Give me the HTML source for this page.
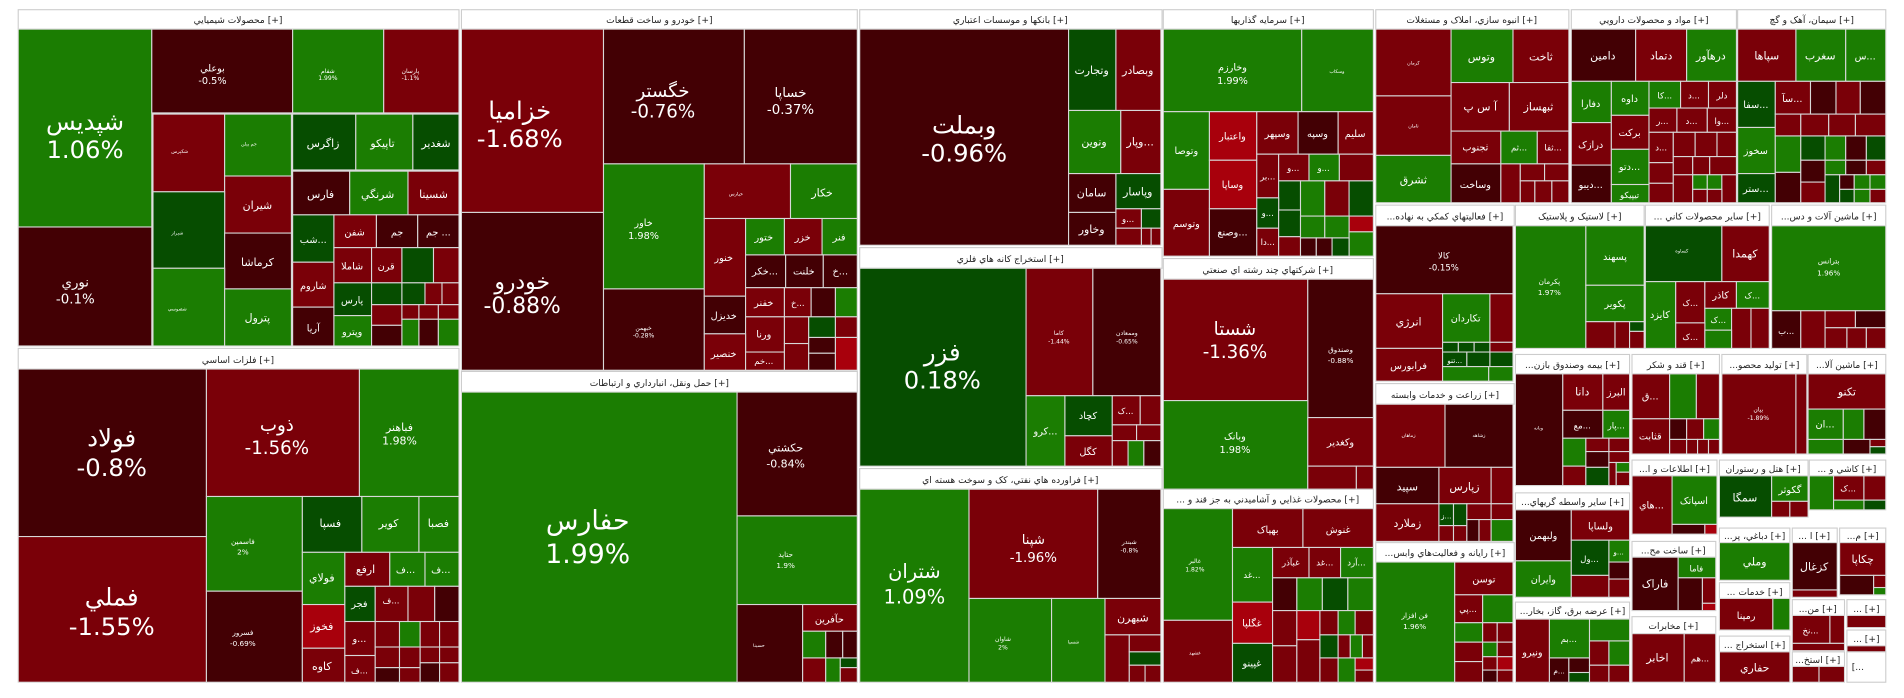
<!DOCTYPE html>
<html><head><meta charset="utf-8"><style>
html,body{margin:0;padding:0;background:#fff;width:1904px;height:698px;overflow:hidden}
svg{display:block}
rect{stroke:#d8d8d8;stroke-width:0.9}
text{fill:#fff;font-family:"DejaVu Sans",sans-serif;text-anchor:middle}
.h rect{fill:#fff;stroke:#ccc}
.h text{fill:#222;font-size:7.5px}
.G{fill:#1b7d02}.D{fill:#064d00}.R{fill:#7a0008}.K{fill:#430004}.B{fill:#a8000c}
</style></head><body>
<svg width="1904" height="698" viewBox="0 0 1568 575" preserveAspectRatio="none">
<rect x="0" y="0" width="1568" height="575" style="fill:#fff;stroke:none"/>
<!-- chemicals -->
<g class="h"><rect x="15" y="8" width="363" height="16"/><text x="196" y="19">محصولات شيميايي [+]</text></g>
<rect class="G" x="15" y="24" width="110" height="163"/><text x="70" y="107" font-size="20">شپديس</text><text x="70" y="130" font-size="20">1.06%</text>
<rect class="K" x="15" y="187" width="110" height="98"/><text x="62" y="236" font-size="11">نوري</text><text x="62" y="250" font-size="11">-0.1%</text>
<rect class="K" x="125" y="24" width="116" height="69"/><text x="175" y="59" font-size="8">بوعلي</text><text x="175" y="69" font-size="8">-0.5%</text>
<rect class="G" x="241" y="24" width="75" height="69"/><text x="270" y="60" font-size="5">شفام</text><text x="270" y="66" font-size="5">1.99%</text>
<rect class="R" x="316" y="24" width="62" height="69"/><text x="338" y="60" font-size="5">پارسان</text><text x="338" y="66" font-size="5">-1.1%</text>
<rect class="R" x="126" y="94" width="59" height="64"/><text x="148" y="126" font-size="4">شکپرس</text>
<rect class="G" x="185" y="94" width="55" height="51"/><text x="205" y="120" font-size="4">جم پيلن</text>
<rect class="D" x="241" y="94" width="52" height="46"/><text x="266" y="121" font-size="9">زاگرس</text>
<rect class="G" x="293" y="94" width="47" height="46"/><text x="315" y="121" font-size="9">تاپيکو</text>
<rect class="D" x="340" y="94" width="38" height="46"/><text x="359" y="121" font-size="9">شغدير</text>
<rect class="R" x="185" y="145" width="55" height="47"/><text x="212" y="172" font-size="9">شيران</text>
<rect class="D" x="126" y="158" width="59" height="63"/><text x="146" y="193" font-size="4">شيراز</text>
<rect class="K" x="185" y="192" width="55" height="46"/><text x="212" y="219" font-size="9">کرماشا</text>
<rect class="G" x="126" y="221" width="59" height="64"/><text x="146" y="256" font-size="4">شصوسي</text>
<rect class="G" x="185" y="238" width="55" height="47"/><text x="212" y="265" font-size="9">پترول</text>
<rect class="K" x="241" y="141" width="47" height="36"/><text x="264" y="163" font-size="9">فارس</text>
<rect class="G" x="288" y="141" width="48" height="36"/><text x="311" y="163" font-size="9">شرنگي</text>
<rect class="R" x="336" y="141" width="42" height="36"/><text x="357" y="163" font-size="9">شسينا</text>
<rect class="D" x="241" y="177" width="34" height="39"/><text x="258" y="200" font-size="8">شب...</text>
<rect class="R" x="275" y="177" width="35" height="27"/><text x="292" y="194" font-size="8">شفن</text>
<rect class="K" x="310" y="177" width="34" height="27"/><text x="327" y="194" font-size="8">جم</text>
<rect class="K" x="344" y="177" width="34" height="27"/><text x="361" y="194" font-size="8">جم ...</text>
<rect class="R" x="241" y="216" width="34" height="37"/><text x="258" y="238" font-size="8">شاروم</text>
<rect class="K" x="241" y="253" width="34" height="32"/><text x="258" y="273" font-size="8">آريا</text>
<rect class="R" x="275" y="204" width="31" height="29"/><text x="290" y="222" font-size="8">شاملا</text>
<rect class="R" x="306" y="204" width="25" height="29"/><text x="318" y="222" font-size="8">قرن</text>
<rect class="D" x="331" y="204" width="26" height="29"/><rect class="R" x="357" y="204" width="21" height="29"/>
<rect class="D" x="275" y="233" width="31" height="27"/><text x="290" y="250" font-size="8">پارس</text>
<rect class="G" x="275" y="260" width="31" height="25"/><text x="290" y="276" font-size="8">وپترو</text>
<rect class="D" x="306" y="233" width="25" height="18"/><rect class="D" x="331" y="233" width="19" height="18"/><rect class="R" x="350" y="233" width="14" height="18"/><rect class="R" x="364" y="233" width="14" height="18"/>
<rect class="R" x="306" y="251" width="25" height="17"/><rect class="R" x="331" y="251" width="14" height="12"/><rect class="R" x="345" y="251" width="16" height="12"/><rect class="R" x="361" y="251" width="17" height="12"/>
<rect class="K" x="306" y="268" width="25" height="17"/><rect class="G" x="331" y="263" width="14" height="22"/><rect class="K" x="345" y="263" width="16" height="22"/><rect class="G" x="361" y="263" width="17" height="22"/>
<!-- auto -->
<g class="h"><rect x="380" y="8" width="326" height="16"/><text x="543" y="19">خودرو و ساخت قطعات [+]</text></g>
<rect class="R" x="380" y="24" width="117" height="151"/><text x="428" y="98" font-size="20">خزاميا</text><text x="428" y="121" font-size="20">-1.68%</text>
<rect class="K" x="380" y="175" width="117" height="130"/><text x="430" y="238" font-size="18">خودرو</text><text x="430" y="258" font-size="18">-0.88%</text>
<rect class="K" x="497" y="24" width="116" height="111"/><text x="546" y="80" font-size="15">خگستر</text><text x="546" y="97" font-size="15">-0.76%</text>
<rect class="K" x="613" y="24" width="93" height="111"/><text x="651" y="80" font-size="11">خساپا</text><text x="651" y="94" font-size="11">-0.37%</text>
<rect class="G" x="497" y="135" width="83" height="103"/><text x="530" y="186" font-size="8">خاور</text><text x="530" y="197" font-size="8">1.98%</text>
<rect class="K" x="497" y="238" width="83" height="67"/><text x="530" y="272" font-size="5">خبهمن</text><text x="530" y="278" font-size="5">-0.28%</text>
<rect class="R" x="580" y="135" width="71" height="45"/><text x="606" y="161" font-size="4">خپارس</text>
<rect class="G" x="651" y="135" width="55" height="45"/><text x="677" y="162" font-size="9">خکار</text>
<rect class="R" x="580" y="180" width="34" height="64"/><text x="596" y="215" font-size="8">خنور</text>
<rect class="G" x="614" y="180" width="32" height="30"/><text x="629" y="198" font-size="8">ختور</text>
<rect class="R" x="646" y="180" width="31" height="30"/><text x="661" y="198" font-size="8">خزر</text>
<rect class="G" x="677" y="180" width="29" height="30"/><text x="691" y="198" font-size="8">فنر</text>
<rect class="K" x="614" y="210" width="33" height="27"/><text x="630" y="226" font-size="8">خکر...</text>
<rect class="K" x="647" y="210" width="31" height="27"/><text x="662" y="226" font-size="8">خلنت</text>
<rect class="K" x="678" y="210" width="28" height="27"/><text x="692" y="226" font-size="8">خ...</text>
<rect class="K" x="580" y="244" width="34" height="31"/><text x="596" y="263" font-size="8">خديزل</text>
<rect class="R" x="614" y="237" width="32" height="24"/><text x="629" y="252" font-size="8">خفنر</text>
<rect class="R" x="646" y="237" width="22" height="24"/><text x="657" y="252" font-size="7">خ...</text>
<rect class="K" x="668" y="237" width="20" height="24"/><rect class="G" x="688" y="237" width="18" height="24"/>
<rect class="R" x="614" y="261" width="32" height="29"/><text x="629" y="278" font-size="8">ورنا</text>
<rect class="R" x="646" y="261" width="20" height="22"/><rect class="D" x="666" y="261" width="22" height="17"/><rect class="R" x="688" y="261" width="18" height="17"/>
<rect class="R" x="580" y="275" width="34" height="30"/><text x="596" y="294" font-size="8">خنصير</text>
<rect class="R" x="614" y="290" width="32" height="15"/><text x="629" y="300" font-size="7">خم...</text>
<rect class="R" x="646" y="283" width="20" height="22"/><rect class="K" x="666" y="278" width="22" height="13"/><rect class="K" x="666" y="291" width="22" height="14"/><rect class="B" x="688" y="278" width="18" height="27"/>
<!-- basic metals -->
<g class="h"><rect x="15" y="287" width="363" height="17"/><text x="196" y="299">فلزات اساسي [+]</text></g>
<rect class="K" x="15" y="304" width="155" height="138"/><text x="92" y="368" font-size="20">فولاد</text><text x="92" y="392" font-size="20">-0.8%</text>
<rect class="R" x="15" y="442" width="155" height="120"/><text x="92" y="499" font-size="20">فملي</text><text x="92" y="523" font-size="20">-1.55%</text>
<rect class="R" x="170" y="304" width="126" height="105"/><text x="228" y="355" font-size="15">ذوب</text><text x="228" y="374" font-size="15">-1.56%</text>
<rect class="G" x="296" y="304" width="82" height="105"/><text x="329" y="355" font-size="9">فباهنر</text><text x="329" y="366" font-size="9">1.98%</text>
<rect class="G" x="170" y="409" width="79" height="78"/><text x="200" y="448" font-size="6">فاسمين</text><text x="200" y="457" font-size="6">2%</text>
<rect class="K" x="170" y="487" width="79" height="75"/><text x="200" y="523" font-size="6">فسرور</text><text x="200" y="532" font-size="6">-0.69%</text>
<rect class="D" x="249" y="409" width="49" height="46"/><text x="272" y="434" font-size="9">فسپا</text>
<rect class="G" x="298" y="409" width="47" height="46"/><text x="320" y="434" font-size="9">کوير</text>
<rect class="G" x="345" y="409" width="33" height="46"/><text x="361" y="434" font-size="9">فصبا</text>
<rect class="G" x="249" y="455" width="35" height="43"/><text x="265" y="479" font-size="9">فولاي</text>
<rect class="R" x="284" y="455" width="37" height="28"/><text x="301" y="472" font-size="9">ارفع</text>
<rect class="G" x="321" y="455" width="29" height="28"/><text x="334" y="472" font-size="8">ف...</text>
<rect class="G" x="350" y="455" width="28" height="28"/><text x="363" y="472" font-size="8">ف...</text>
<rect class="B" x="249" y="498" width="35" height="36"/><text x="265" y="519" font-size="9">فخوز</text>
<rect class="R" x="249" y="534" width="35" height="28"/><text x="265" y="552" font-size="9">کاوه</text>
<rect class="D" x="284" y="483" width="25" height="29"/><text x="296" y="500" font-size="8">فجر</text>
<rect class="R" x="309" y="483" width="27" height="29"/><text x="322" y="497" font-size="7">ف...</text>
<rect class="R" x="336" y="483" width="22" height="29"/><rect class="K" x="358" y="483" width="20" height="29"/>
<rect class="R" x="284" y="512" width="25" height="28"/><text x="296" y="529" font-size="8">و...</text>
<rect class="R" x="284" y="540" width="25" height="22"/><text x="296" y="555" font-size="7">ف...</text>
<rect class="R" x="309" y="512" width="20" height="21"/><rect class="G" x="329" y="512" width="17" height="21"/><rect class="R" x="346" y="512" width="16" height="21"/><rect class="R" x="362" y="512" width="16" height="21"/>
<rect class="R" x="309" y="533" width="20" height="17"/><rect class="R" x="329" y="533" width="17" height="17"/><rect class="R" x="346" y="533" width="16" height="13"/><rect class="R" x="362" y="533" width="16" height="13"/>
<rect class="K" x="309" y="550" width="20" height="12"/><rect class="R" x="329" y="550" width="17" height="12"/><rect class="K" x="346" y="546" width="16" height="16"/><rect class="R" x="362" y="546" width="16" height="16"/>
<!-- transport -->
<g class="h"><rect x="380" y="306" width="326" height="17"/><text x="543" y="318">حمل ونقل، انبارداري و ارتباطات [+]</text></g>
<rect class="G" x="380" y="323" width="227" height="239"/><text x="484" y="436" font-size="22">حفارس</text><text x="484" y="464" font-size="22">1.99%</text>
<rect class="K" x="607" y="323" width="99" height="102"/><text x="647" y="372" font-size="9">حکشتي</text><text x="647" y="385" font-size="9">-0.84%</text>
<rect class="G" x="607" y="425" width="99" height="73"/><text x="647" y="459" font-size="6">حتايد</text><text x="647" y="468" font-size="6">1.9%</text>
<rect class="K" x="607" y="498" width="54" height="64"/><text x="625" y="533" font-size="4">حسينا</text>
<rect class="R" x="661" y="498" width="45" height="22"/><text x="683" y="513" font-size="8">حآفرين</text>
<rect class="G" x="661" y="520" width="19" height="22"/><rect class="K" x="680" y="520" width="14" height="22"/><rect class="K" x="694" y="520" width="12" height="22"/>
<rect class="R" x="661" y="542" width="19" height="20"/><rect class="G" x="680" y="542" width="12" height="20"/><rect class="D" x="692" y="542" width="14" height="8"/><rect class="R" x="692" y="550" width="14" height="12"/>
<!-- banks -->
<g class="h"><rect x="708" y="8" width="249" height="16"/><text x="832" y="19">بانکها و موسسات اعتباري [+]</text></g>
<rect class="K" x="708" y="24" width="172" height="178"/><text x="794" y="110" font-size="20">وبملت</text><text x="794" y="133" font-size="20">-0.96%</text>
<rect class="D" x="880" y="24" width="39" height="67"/><text x="899" y="61" font-size="9">وتجارت</text>
<rect class="R" x="919" y="24" width="37" height="67"/><text x="937" y="61" font-size="9">وبصادر</text>
<rect class="G" x="880" y="91" width="43" height="52"/><text x="901" y="120" font-size="9">ونوين</text>
<rect class="R" x="923" y="91" width="33" height="52"/><text x="939" y="120" font-size="9">وپار...</text>
<rect class="K" x="880" y="143" width="39" height="32"/><text x="899" y="162" font-size="9">سامان</text>
<rect class="D" x="919" y="143" width="37" height="29"/><text x="937" y="161" font-size="9">وپاسار</text>
<rect class="K" x="880" y="175" width="39" height="27"/><text x="899" y="192" font-size="9">وخاور</text>
<rect class="R" x="919" y="172" width="21" height="16"/><text x="929" y="183" font-size="7">و...</text><rect class="D" x="940" y="172" width="16" height="16"/>
<rect class="R" x="919" y="188" width="21" height="14"/><rect class="R" x="940" y="188" width="8" height="14"/><rect class="R" x="948" y="188" width="8" height="14"/>
<!-- mining -->
<g class="h"><rect x="708" y="204" width="249" height="17"/><text x="832" y="216">استخراج کانه هاي فلزي [+]</text></g>
<rect class="D" x="708" y="221" width="137" height="163"/><text x="776" y="297" font-size="20">فزر</text><text x="776" y="320" font-size="20">0.18%</text>
<rect class="R" x="845" y="221" width="55" height="105"/><text x="872" y="276" font-size="5">کاما</text><text x="872" y="283" font-size="5">-1.44%</text>
<rect class="K" x="900" y="221" width="56" height="105"/><text x="928" y="276" font-size="5">وممعادن</text><text x="928" y="283" font-size="5">-0.65%</text>
<rect class="G" x="845" y="326" width="32" height="58"/><text x="861" y="358" font-size="8">کرو...</text>
<rect class="D" x="877" y="326" width="39" height="33"/><text x="896" y="345" font-size="8">کچاد</text>
<rect class="R" x="877" y="359" width="39" height="25"/><text x="896" y="375" font-size="8">کگل</text>
<rect class="R" x="916" y="326" width="23" height="24"/><text x="927" y="341" font-size="7">ک...</text><rect class="R" x="939" y="326" width="17" height="24"/>
<rect class="R" x="916" y="350" width="20" height="13"/><rect class="R" x="936" y="350" width="20" height="13"/>
<rect class="R" x="916" y="363" width="13" height="21"/><rect class="G" x="929" y="363" width="13" height="21"/><rect class="K" x="942" y="363" width="14" height="21"/>
<!-- oil -->
<g class="h"><rect x="708" y="386" width="249" height="17"/><text x="832" y="398">فراورده هاي نفتي، کک و سوخت هسته اي [+]</text></g>
<rect class="G" x="708" y="403" width="90" height="159"/><text x="753" y="476" font-size="16">شتران</text><text x="753" y="497" font-size="16">1.09%</text>
<rect class="R" x="798" y="403" width="106" height="90"/><text x="851" y="448" font-size="11">شپنا</text><text x="851" y="463" font-size="11">-1.96%</text>
<rect class="K" x="904" y="403" width="52" height="90"/><text x="930" y="448" font-size="5">شبندر</text><text x="930" y="455" font-size="5">-0.8%</text>
<rect class="G" x="798" y="493" width="68" height="69"/><text x="826" y="528" font-size="5">شاوان</text><text x="826" y="535" font-size="5">2%</text>
<rect class="G" x="866" y="493" width="44" height="69"/><text x="884" y="530" font-size="4">شسپا</text>
<rect class="R" x="910" y="493" width="46" height="30"/><text x="933" y="512" font-size="9">شبهرن</text>
<rect class="R" x="910" y="523" width="20" height="39"/><rect class="R" x="930" y="523" width="26" height="14"/><rect class="D" x="930" y="537" width="26" height="11"/><rect class="R" x="930" y="548" width="13" height="14"/><rect class="R" x="943" y="548" width="13" height="14"/>
<!-- investments -->
<g class="h"><rect x="958" y="8" width="173" height="16"/><text x="1044" y="19">سرمايه گذاريها [+]</text></g>
<rect class="G" x="958" y="24" width="114" height="68"/><text x="1015" y="58" font-size="8">وخارزم</text><text x="1015" y="69" font-size="8">1.99%</text>
<rect class="G" x="1072" y="24" width="59" height="68"/><text x="1101" y="60" font-size="4">وسکاب</text>
<rect class="G" x="958" y="92" width="38" height="64"/><text x="977" y="127" font-size="8">وتوصا</text>
<rect class="R" x="958" y="156" width="38" height="55"/><text x="977" y="187" font-size="8">وتوسم</text>
<rect class="B" x="996" y="92" width="39" height="40"/><text x="1015" y="115" font-size="8">واعتبار</text>
<rect class="B" x="996" y="132" width="39" height="40"/><text x="1015" y="155" font-size="8">وساپا</text>
<rect class="K" x="996" y="172" width="39" height="39"/><text x="1015" y="194" font-size="8">وصنع...</text>
<rect class="R" x="1035" y="92" width="34" height="35"/><text x="1052" y="113" font-size="8">وسپهر</text>
<rect class="K" x="1069" y="92" width="33" height="35"/><text x="1085" y="113" font-size="8">وسپه</text>
<rect class="R" x="1102" y="92" width="29" height="35"/><text x="1116" y="113" font-size="8">سليم</text>
<rect class="R" x="1035" y="127" width="18" height="36"/><text x="1044" y="148" font-size="7">بر...</text>
<rect class="R" x="1053" y="127" width="25" height="22"/><text x="1065" y="141" font-size="7">و...</text>
<rect class="G" x="1078" y="127" width="25" height="22"/><text x="1090" y="141" font-size="7">و...</text>
<rect class="R" x="1103" y="127" width="28" height="22"/>
<rect class="D" x="1053" y="149" width="18" height="24"/><rect class="G" x="1071" y="149" width="20" height="29"/><rect class="R" x="1091" y="149" width="20" height="29"/><rect class="D" x="1111" y="149" width="20" height="29"/>
<rect class="D" x="1035" y="163" width="18" height="25"/><text x="1044" y="178" font-size="7">و...</text>
<rect class="R" x="1035" y="188" width="18" height="23"/><text x="1044" y="202" font-size="7">دا...</text>
<rect class="D" x="1053" y="173" width="18" height="22"/><rect class="R" x="1053" y="195" width="18" height="16"/>
<rect class="G" x="1071" y="178" width="20" height="18"/><rect class="B" x="1111" y="178" width="20" height="13"/><rect class="G" x="1091" y="178" width="20" height="18"/><rect class="G" x="1111" y="191" width="20" height="20"/>
<rect class="K" x="1071" y="196" width="13" height="15"/><rect class="K" x="1084" y="196" width="13" height="15"/><rect class="D" x="1097" y="196" width="14" height="15"/>
<!-- multi -->
<g class="h"><rect x="958" y="213" width="173" height="17"/><text x="1044" y="225">شرکتهاي چند رشته اي صنعتي [+]</text></g>
<rect class="R" x="958" y="230" width="119" height="100"/><text x="1017" y="276" font-size="15">شستا</text><text x="1017" y="295" font-size="15">-1.36%</text>
<rect class="K" x="1077" y="230" width="54" height="114"/><text x="1104" y="290" font-size="6">وصندوق</text><text x="1104" y="299" font-size="6">-0.88%</text>
<rect class="G" x="958" y="330" width="119" height="73"/><text x="1017" y="362" font-size="8">وبانک</text><text x="1017" y="373" font-size="8">1.98%</text>
<rect class="R" x="1077" y="344" width="54" height="40"/><text x="1104" y="367" font-size="8">وکغدير</text>
<rect class="R" x="1077" y="384" width="40" height="19"/><rect class="R" x="1117" y="384" width="14" height="19"/>
<!-- food -->
<g class="h"><rect x="958" y="403" width="173" height="16"/><text x="1044" y="414">... محصولات غذايي و آشاميدني به جز قند و [+]</text></g>
<rect class="G" x="958" y="419" width="57" height="92"/><text x="984" y="464" font-size="5">غالبر</text><text x="984" y="471" font-size="5">1.82%</text>
<rect class="R" x="958" y="511" width="57" height="51"/><text x="984" y="539" font-size="4">غشهد</text>
<rect class="R" x="1015" y="419" width="58" height="32"/><text x="1044" y="439" font-size="8">بهپاک</text>
<rect class="R" x="1073" y="419" width="58" height="32"/><text x="1102" y="439" font-size="8">غنوش</text>
<rect class="G" x="1015" y="451" width="33" height="45"/><text x="1031" y="476" font-size="7">غد...</text>
<rect class="R" x="1048" y="451" width="30" height="25"/><text x="1063" y="466" font-size="7">غبآذر</text>
<rect class="R" x="1078" y="451" width="26" height="25"/><text x="1091" y="466" font-size="7">غد...</text>
<rect class="G" x="1104" y="451" width="27" height="25"/><text x="1117" y="466" font-size="7">آرد...</text>
<rect class="B" x="1015" y="496" width="33" height="34"/><text x="1031" y="516" font-size="8">غگلپا</text>
<rect class="D" x="1015" y="530" width="33" height="32"/><text x="1031" y="549" font-size="8">غپينو</text>
<rect class="K" x="1048" y="476" width="20" height="27"/><rect class="G" x="1068" y="476" width="21" height="27"/><rect class="D" x="1089" y="476" width="21" height="27"/><rect class="G" x="1110" y="476" width="21" height="27"/>
<rect class="R" x="1048" y="503" width="20" height="29"/><rect class="B" x="1068" y="503" width="19" height="24"/><rect class="R" x="1087" y="503" width="15" height="20"/><rect class="G" x="1102" y="503" width="14" height="20"/><rect class="R" x="1116" y="503" width="15" height="20"/>
<rect class="R" x="1048" y="532" width="20" height="30"/><rect class="R" x="1068" y="527" width="19" height="35"/><rect class="D" x="1087" y="523" width="15" height="19"/><rect class="R" x="1102" y="523" width="10" height="19"/><rect class="G" x="1112" y="523" width="10" height="19"/><rect class="R" x="1122" y="523" width="9" height="19"/>
<rect class="R" x="1087" y="542" width="15" height="20"/><rect class="G" x="1102" y="542" width="14" height="20"/><rect class="B" x="1116" y="542" width="15" height="10"/><rect class="R" x="1116" y="552" width="15" height="10"/>
<!-- construction -->
<g class="h"><rect x="1133" y="8" width="159" height="16"/><text x="1212" y="19">انبوه سازي، املاک و مستغلات [+]</text></g>
<rect class="R" x="1133" y="24" width="62" height="55"/><text x="1164" y="53" font-size="4">کرمان</text>
<rect class="R" x="1133" y="79" width="62" height="49"/><text x="1164" y="105" font-size="4">ثامان</text>
<rect class="G" x="1133" y="128" width="62" height="39"/><text x="1164" y="151" font-size="9">ثشرق</text>
<rect class="G" x="1195" y="24" width="51" height="44"/><text x="1220" y="50" font-size="9">وتوس</text>
<rect class="R" x="1246" y="24" width="46" height="44"/><text x="1269" y="50" font-size="9">ثاخت</text>
<rect class="R" x="1195" y="68" width="48" height="40"/><text x="1219" y="91" font-size="9">آ س پ</text>
<rect class="R" x="1243" y="68" width="49" height="40"/><text x="1267" y="91" font-size="9">ثبهساز</text>
<rect class="R" x="1195" y="108" width="41" height="27"/><text x="1215" y="124" font-size="8">ثجنوب</text>
<rect class="G" x="1236" y="108" width="30" height="27"/><text x="1251" y="124" font-size="7">ثم...</text>
<rect class="R" x="1266" y="108" width="26" height="27"/><text x="1279" y="124" font-size="7">ثفا...</text>
<rect class="K" x="1195" y="135" width="41" height="32"/><text x="1215" y="155" font-size="8">وساخت</text>
<rect class="R" x="1236" y="135" width="16" height="32"/><rect class="R" x="1252" y="135" width="20" height="14"/><rect class="R" x="1272" y="135" width="20" height="14"/><rect class="R" x="1252" y="149" width="12" height="18"/><rect class="R" x="1264" y="149" width="14" height="18"/><rect class="R" x="1278" y="149" width="14" height="18"/>
<!-- pharma -->
<g class="h"><rect x="1294" y="8" width="136" height="16"/><text x="1362" y="19">مواد و محصولات دارويي [+]</text></g>
<rect class="K" x="1294" y="24" width="53" height="43"/><text x="1320" y="49" font-size="9">دامين</text>
<rect class="R" x="1347" y="24" width="42" height="43"/><text x="1368" y="49" font-size="9">دتماد</text>
<rect class="G" x="1389" y="24" width="41" height="43"/><text x="1409" y="49" font-size="9">درهآور</text>
<rect class="G" x="1294" y="67" width="33" height="34"/><text x="1310" y="88" font-size="8">دفارا</text>
<rect class="G" x="1327" y="67" width="31" height="28"/><text x="1342" y="84" font-size="8">داوه</text>
<rect class="G" x="1358" y="67" width="26" height="22"/><text x="1371" y="81" font-size="7">کا...</text>
<rect class="R" x="1384" y="67" width="23" height="22"/><text x="1395" y="81" font-size="7">د...</text>
<rect class="R" x="1407" y="67" width="23" height="22"/><text x="1418" y="81" font-size="7">دلر</text>
<rect class="R" x="1294" y="101" width="33" height="35"/><text x="1310" y="122" font-size="8">درازک</text>
<rect class="K" x="1294" y="136" width="33" height="31"/><text x="1310" y="155" font-size="8">ديبو...</text>
<rect class="R" x="1327" y="95" width="31" height="28"/><text x="1342" y="112" font-size="8">برکت</text>
<rect class="G" x="1327" y="123" width="31" height="29"/><text x="1342" y="140" font-size="8">دتو...</text>
<rect class="G" x="1327" y="152" width="31" height="15"/><text x="1342" y="163" font-size="7">تيپيکو</text>
<rect class="R" x="1358" y="89" width="23" height="20"/><text x="1369" y="102" font-size="7">ر...</text>
<rect class="R" x="1381" y="89" width="25" height="20"/><text x="1393" y="102" font-size="7">د...</text>
<rect class="R" x="1406" y="89" width="24" height="20"/><text x="1418" y="102" font-size="7">وا...</text>
<rect class="R" x="1358" y="109" width="20" height="25"/><text x="1368" y="124" font-size="7">د...</text><rect class="R" x="1378" y="109" width="18" height="20"/><rect class="R" x="1396" y="109" width="18" height="20"/><rect class="R" x="1414" y="109" width="16" height="20"/>
<rect class="R" x="1358" y="134" width="20" height="17"/><rect class="R" x="1378" y="129" width="16" height="15"/><rect class="R" x="1394" y="129" width="14" height="15"/><rect class="R" x="1408" y="129" width="22" height="15"/>
<rect class="R" x="1358" y="151" width="20" height="16"/><rect class="R" x="1378" y="144" width="16" height="23"/><rect class="G" x="1394" y="144" width="12" height="12"/><rect class="G" x="1406" y="144" width="12" height="12"/><rect class="R" x="1418" y="144" width="12" height="23"/><rect class="R" x="1394" y="156" width="12" height="11"/><rect class="R" x="1406" y="156" width="12" height="11"/>
<!-- cement -->
<g class="h"><rect x="1431" y="8" width="122" height="16"/><text x="1492" y="19">سيمان، آهک و گچ [+]</text></g>
<rect class="R" x="1431" y="24" width="48" height="43"/><text x="1455" y="49" font-size="9">سپاها</text>
<rect class="G" x="1479" y="24" width="41" height="43"/><text x="1499" y="49" font-size="9">سغرب</text>
<rect class="G" x="1520" y="24" width="33" height="43"/><text x="1536" y="49" font-size="8">س...</text>
<rect class="D" x="1431" y="67" width="31" height="38"/><text x="1446" y="89" font-size="8">سفا...</text>
<rect class="R" x="1462" y="67" width="29" height="27"/><text x="1476" y="84" font-size="8">سآ...</text>
<rect class="K" x="1491" y="67" width="21" height="27"/><rect class="R" x="1512" y="67" width="20" height="27"/><rect class="K" x="1532" y="67" width="21" height="27"/>
<rect class="G" x="1431" y="105" width="31" height="38"/><text x="1446" y="127" font-size="8">سخوز</text>
<rect class="D" x="1431" y="143" width="31" height="24"/><text x="1446" y="158" font-size="8">ستر...</text>
<rect class="R" x="1462" y="94" width="21" height="18"/><rect class="R" x="1483" y="94" width="23" height="18"/><rect class="R" x="1506" y="94" width="22" height="18"/><rect class="R" x="1528" y="94" width="25" height="18"/>
<rect class="G" x="1462" y="112" width="21" height="30"/><rect class="D" x="1483" y="112" width="20" height="20"/><rect class="G" x="1503" y="112" width="17" height="20"/><rect class="K" x="1520" y="112" width="17" height="20"/><rect class="D" x="1537" y="112" width="16" height="20"/>
<rect class="K" x="1462" y="142" width="21" height="25"/><rect class="K" x="1483" y="132" width="20" height="18"/><rect class="G" x="1503" y="132" width="17" height="12"/><rect class="K" x="1520" y="132" width="17" height="12"/><rect class="R" x="1537" y="132" width="16" height="12"/>
<rect class="R" x="1483" y="150" width="20" height="17"/><rect class="D" x="1503" y="144" width="12" height="23"/><rect class="K" x="1515" y="144" width="12" height="12"/><rect class="G" x="1527" y="144" width="13" height="12"/><rect class="G" x="1540" y="144" width="13" height="12"/><rect class="D" x="1515" y="156" width="12" height="11"/><rect class="G" x="1527" y="156" width="13" height="11"/><rect class="R" x="1540" y="156" width="13" height="11"/>
<!-- support -->
<g class="h"><rect x="1133" y="169" width="114" height="17"/><text x="1190" y="181">...فعاليتهاي کمکي به نهاده [+]</text></g>
<rect class="K" x="1133" y="186" width="113" height="56"/><text x="1189" y="213" font-size="7">کالا</text><text x="1189" y="223" font-size="7">-0.15%</text>
<rect class="R" x="1133" y="242" width="55" height="45"/><text x="1160" y="268" font-size="9">انرژي</text>
<rect class="R" x="1133" y="287" width="55" height="27"/><text x="1160" y="304" font-size="8">فرابورس</text>
<rect class="G" x="1188" y="242" width="39" height="40"/><text x="1207" y="265" font-size="8">تکاردان</text>
<rect class="R" x="1227" y="242" width="19" height="40"/>
<rect class="D" x="1188" y="282" width="13" height="8"/><rect class="D" x="1201" y="282" width="13" height="8"/><rect class="D" x="1214" y="282" width="13" height="8"/><rect class="R" x="1227" y="282" width="19" height="8"/>
<rect class="D" x="1188" y="290" width="20" height="12"/><text x="1198" y="299" font-size="6">تنو...</text><rect class="D" x="1208" y="290" width="19" height="12"/><rect class="D" x="1227" y="290" width="19" height="12"/>
<rect class="G" x="1188" y="302" width="38" height="12"/><rect class="G" x="1226" y="302" width="20" height="12"/>
<!-- agri -->
<g class="h"><rect x="1133" y="316" width="114" height="17"/><text x="1190" y="328">زراعت و خدمات وابسته [+]</text></g>
<rect class="R" x="1133" y="333" width="57" height="52"/><text x="1160" y="360" font-size="4">زماهان</text>
<rect class="K" x="1190" y="333" width="56" height="52"/><text x="1218" y="360" font-size="4">زشاهد</text>
<rect class="K" x="1133" y="385" width="52" height="30"/><text x="1159" y="404" font-size="9">سپيد</text>
<rect class="R" x="1185" y="385" width="43" height="30"/><text x="1206" y="404" font-size="9">زپارس</text>
<rect class="R" x="1228" y="385" width="18" height="30"/>
<rect class="R" x="1133" y="415" width="52" height="31"/><text x="1159" y="434" font-size="9">زملارد</text>
<rect class="D" x="1185" y="415" width="12" height="18"/><text x="1191" y="427" font-size="6">ز...</text><rect class="D" x="1197" y="415" width="11" height="18"/><rect class="R" x="1208" y="415" width="20" height="13"/><rect class="R" x="1228" y="415" width="18" height="13"/>
<rect class="R" x="1185" y="433" width="12" height="13"/><rect class="R" x="1197" y="433" width="11" height="13"/><rect class="K" x="1208" y="428" width="10" height="18"/><rect class="R" x="1218" y="428" width="10" height="18"/><rect class="G" x="1228" y="428" width="18" height="18"/>
<!-- IT -->
<g class="h"><rect x="1133" y="447" width="114" height="16"/><text x="1190" y="458">...رايانه و فعاليت‌هاي وابس [+]</text></g>
<rect class="G" x="1133" y="463" width="65" height="99"/><text x="1165" y="509" font-size="6">فن افزار</text><text x="1165" y="518" font-size="6">1.96%</text>
<rect class="R" x="1198" y="463" width="48" height="27"/><text x="1222" y="480" font-size="8">توسن</text>
<rect class="R" x="1198" y="490" width="23" height="23"/><text x="1209" y="504" font-size="7">پي...</text><rect class="G" x="1221" y="490" width="25" height="23"/>
<rect class="G" x="1198" y="513" width="23" height="16"/><rect class="R" x="1221" y="513" width="12" height="16"/><rect class="R" x="1233" y="513" width="13" height="16"/>
<rect class="R" x="1198" y="529" width="23" height="16"/><rect class="G" x="1221" y="529" width="12" height="12"/><rect class="R" x="1233" y="529" width="13" height="12"/>
<rect class="R" x="1198" y="545" width="23" height="17"/><rect class="R" x="1221" y="541" width="12" height="11"/><rect class="B" x="1233" y="541" width="13" height="11"/><rect class="K" x="1221" y="552" width="12" height="10"/><rect class="R" x="1233" y="552" width="13" height="10"/>
<!-- plastics -->
<g class="h"><rect x="1248" y="169" width="106" height="17"/><text x="1301" y="181">لاستيک و پلاستيک [+]</text></g>
<rect class="G" x="1248" y="186" width="58" height="101"/><text x="1276" y="234" font-size="6">پکرمان</text><text x="1276" y="243" font-size="6">1.97%</text>
<rect class="G" x="1306" y="186" width="48" height="49"/><text x="1330" y="214" font-size="8">پسهند</text>
<rect class="G" x="1306" y="235" width="48" height="30"/><text x="1330" y="253" font-size="8">پکوير</text>
<rect class="R" x="1306" y="265" width="24" height="22"/><rect class="R" x="1330" y="265" width="12" height="22"/><rect class="D" x="1342" y="265" width="12" height="8"/><rect class="R" x="1342" y="273" width="12" height="14"/>
<!-- nonmetal -->
<g class="h"><rect x="1355" y="169" width="102" height="17"/><text x="1406" y="181">... ساير محصولات کاني [+]</text></g>
<rect class="D" x="1355" y="186" width="63" height="46"/><text x="1385" y="208" font-size="4">کساوه</text>
<rect class="R" x="1418" y="186" width="39" height="46"/><text x="1437" y="212" font-size="9">کهمدا</text>
<rect class="G" x="1355" y="232" width="25" height="55"/><text x="1367" y="262" font-size="8">کايزد</text>
<rect class="R" x="1380" y="232" width="24" height="34"/><text x="1392" y="252" font-size="7">ک...</text>
<rect class="R" x="1404" y="232" width="26" height="22"/><text x="1417" y="246" font-size="8">کاذر</text>
<rect class="G" x="1430" y="232" width="27" height="22"/><text x="1443" y="246" font-size="7">ک...</text>
<rect class="G" x="1404" y="254" width="22" height="18"/><text x="1415" y="266" font-size="7">ک...</text><rect class="R" x="1426" y="254" width="16" height="33"/><rect class="R" x="1442" y="254" width="15" height="33"/>
<rect class="R" x="1380" y="266" width="24" height="21"/><text x="1392" y="280" font-size="7">ک...</text><rect class="G" x="1404" y="272" width="22" height="15"/>
<!-- machinery -->
<g class="h"><rect x="1459" y="169" width="94" height="17"/><text x="1506" y="181">...ماشين آلات و دس [+]</text></g>
<rect class="G" x="1459" y="186" width="94" height="70"/><text x="1506" y="217" font-size="6">بترانس</text><text x="1506" y="227" font-size="6">1.96%</text>
<rect class="K" x="1459" y="256" width="24" height="31"/><text x="1471" y="275" font-size="7">ب...</text>
<rect class="R" x="1483" y="256" width="20" height="31"/><rect class="R" x="1503" y="256" width="25" height="14"/><rect class="K" x="1528" y="256" width="25" height="14"/><rect class="R" x="1503" y="270" width="18" height="17"/><rect class="R" x="1521" y="270" width="16" height="17"/><rect class="R" x="1537" y="270" width="16" height="17"/>
<!-- insurance -->
<g class="h"><rect x="1248" y="292" width="94" height="16"/><text x="1295" y="303">...بيمه وصندوق بازن [+]</text></g>
<rect class="K" x="1248" y="308" width="39" height="92"/><text x="1267" y="354" font-size="4">وبانه</text>
<rect class="R" x="1287" y="308" width="33" height="30"/><text x="1303" y="326" font-size="9">دانا</text>
<rect class="R" x="1320" y="308" width="22" height="30"/><text x="1331" y="326" font-size="8">البرز</text>
<rect class="K" x="1287" y="338" width="33" height="23"/><text x="1303" y="353" font-size="7">مع...</text>
<rect class="G" x="1320" y="338" width="22" height="23"/><text x="1331" y="353" font-size="7">پار...</text>
<rect class="G" x="1287" y="361" width="19" height="23"/><rect class="R" x="1306" y="361" width="19" height="11"/><rect class="R" x="1325" y="361" width="17" height="11"/><rect class="K" x="1306" y="372" width="19" height="13"/><rect class="R" x="1325" y="372" width="17" height="9"/>
<rect class="R" x="1287" y="384" width="19" height="16"/><rect class="D" x="1306" y="385" width="19" height="15"/><rect class="R" x="1325" y="381" width="6" height="19"/><rect class="G" x="1331" y="381" width="11" height="8"/><rect class="R" x="1331" y="389" width="11" height="11"/>
<!-- sugar -->
<g class="h"><rect x="1344" y="292" width="72" height="16"/><text x="1380" y="303">قند و شکر [+]</text></g>
<rect class="R" x="1344" y="308" width="31" height="37"/><text x="1359" y="329" font-size="8">ق...</text>
<rect class="G" x="1375" y="308" width="22" height="37"/><rect class="R" x="1397" y="308" width="19" height="37"/>
<rect class="R" x="1344" y="345" width="31" height="29"/><text x="1359" y="362" font-size="8">قثابت</text>
<rect class="K" x="1375" y="345" width="14" height="17"/><rect class="R" x="1389" y="345" width="14" height="17"/><rect class="G" x="1403" y="345" width="13" height="17"/>
<rect class="R" x="1375" y="362" width="14" height="12"/><rect class="R" x="1389" y="362" width="9" height="12"/><rect class="R" x="1398" y="362" width="9" height="12"/><rect class="R" x="1407" y="362" width="9" height="12"/>
<!-- production -->
<g class="h"><rect x="1418" y="292" width="70" height="16"/><text x="1453" y="303">...توليد محصو [+]</text></g>
<rect class="R" x="1418" y="308" width="61" height="66"/><text x="1448" y="339" font-size="5">بيان</text><text x="1448" y="346" font-size="5">-1.89%</text>
<rect class="R" x="1479" y="308" width="9" height="66"/>
<!-- mach2 -->
<g class="h"><rect x="1489" y="292" width="64" height="16"/><text x="1521" y="303">...ماشين آلا [+]</text></g>
<rect class="R" x="1489" y="308" width="64" height="29"/><text x="1521" y="326" font-size="9">تکنو</text>
<rect class="G" x="1489" y="337" width="29" height="25"/><text x="1503" y="352" font-size="8">ان...</text>
<rect class="G" x="1518" y="337" width="17" height="25"/><rect class="K" x="1535" y="337" width="18" height="25"/>
<rect class="G" x="1489" y="362" width="29" height="12"/><rect class="K" x="1518" y="362" width="22" height="12"/><rect class="R" x="1540" y="362" width="13" height="6"/><rect class="D" x="1540" y="368" width="13" height="6"/>
<!-- info -->
<g class="h"><rect x="1344" y="379" width="70" height="13"/><text x="1379" y="389" font-size="7">...اطلاعات و ا [+]</text></g>
<rect class="R" x="1344" y="392" width="33" height="48"/><text x="1360" y="419" font-size="8">هاي...</text>
<rect class="G" x="1377" y="392" width="37" height="40"/><text x="1395" y="415" font-size="8">اسپاتک</text>
<rect class="K" x="1377" y="432" width="27" height="8"/><rect class="B" x="1404" y="432" width="10" height="8"/>
<g class="h"><rect x="1416" y="379" width="73" height="13"/><text x="1452" y="389" font-size="7">هتل و رستوران [+]</text></g>
<rect class="D" x="1416" y="392" width="43" height="34"/><text x="1437" y="413" font-size="9">سمگا</text>
<rect class="G" x="1459" y="392" width="30" height="21"/><text x="1474" y="406" font-size="8">گکوثر</text>
<rect class="R" x="1459" y="413" width="15" height="13"/><rect class="R" x="1474" y="413" width="15" height="13"/>
<g class="h"><rect x="1490" y="379" width="63" height="13"/><text x="1521" y="389" font-size="7">... کاشي و [+]</text></g>
<rect class="G" x="1490" y="392" width="20" height="28"/><rect class="R" x="1510" y="392" width="25" height="20"/><text x="1522" y="405" font-size="7">ک...</text><rect class="R" x="1535" y="392" width="18" height="20"/>
<rect class="D" x="1535" y="412" width="18" height="8"/><rect class="G" x="1510" y="412" width="25" height="8"/>
<!-- other intermediaries -->
<g class="h"><rect x="1248" y="406" width="94" height="14"/><text x="1295" y="416">...ساير واسطه گريهاي [+]</text></g>
<rect class="K" x="1248" y="420" width="46" height="42"/><text x="1271" y="444" font-size="8">ولبهمن</text>
<rect class="G" x="1248" y="462" width="46" height="30"/><text x="1271" y="480" font-size="8">وايران</text>
<rect class="R" x="1294" y="420" width="48" height="25"/><text x="1318" y="436" font-size="8">ولساپا</text>
<rect class="D" x="1294" y="445" width="31" height="29"/><text x="1309" y="463" font-size="7">ول...</text>
<rect class="G" x="1325" y="445" width="17" height="18"/><text x="1333" y="457" font-size="6">و...</text><rect class="K" x="1325" y="463" width="17" height="14"/>
<rect class="R" x="1294" y="474" width="31" height="18"/><rect class="R" x="1325" y="477" width="17" height="15"/>
<!-- construction2 -->
<g class="h"><rect x="1344" y="446" width="69" height="13"/><text x="1378" y="456" font-size="7">...ساخت مح [+]</text></g>
<rect class="K" x="1344" y="459" width="38" height="44"/><text x="1363" y="484" font-size="9">فاراک</text>
<rect class="G" x="1382" y="459" width="31" height="17"/><text x="1397" y="471" font-size="7">فاما</text>
<rect class="K" x="1382" y="476" width="20" height="27"/><rect class="R" x="1402" y="476" width="11" height="21"/><rect class="B" x="1402" y="497" width="11" height="6"/>
<!-- small headers right -->
<g class="h"><rect x="1416" y="435" width="58" height="12"/><text x="1445" y="444" font-size="6.5">...دباغي، پر [+]</text></g>
<rect class="G" x="1416" y="447" width="58" height="31"/><text x="1445" y="466" font-size="9">وملي</text>
<g class="h"><rect x="1476" y="435" width="37" height="12"/><text x="1494" y="444" font-size="6.5">... ا [+]</text></g>
<rect class="K" x="1476" y="447" width="37" height="39"/><text x="1494" y="470" font-size="9">کزغال</text>
<rect class="R" x="1476" y="486" width="37" height="6"/>
<g class="h"><rect x="1515" y="435" width="38" height="12"/><text x="1534" y="444" font-size="6.5">...م [+]</text></g>
<rect class="R" x="1515" y="447" width="38" height="27"/><text x="1534" y="464" font-size="9">چکاپا</text>
<rect class="K" x="1515" y="474" width="28" height="16"/><rect class="R" x="1543" y="474" width="10" height="10"/><rect class="G" x="1543" y="484" width="10" height="6"/>
<g class="h"><rect x="1416" y="480" width="58" height="13"/><text x="1445" y="490" font-size="6.5">... خدمات [+]</text></g>
<rect class="R" x="1416" y="493" width="44" height="26"/><text x="1438" y="510" font-size="8">رمپنا</text>
<rect class="G" x="1460" y="493" width="14" height="26"/>
<g class="h"><rect x="1476" y="494" width="43" height="13"/><text x="1497" y="504" font-size="6.5">...من [+]</text></g>
<rect class="R" x="1476" y="507" width="31" height="23"/><text x="1491" y="522" font-size="7">نخ...</text><rect class="R" x="1507" y="507" width="12" height="23"/><rect class="R" x="1476" y="530" width="43" height="6"/>
<g class="h"><rect x="1521" y="494" width="32" height="13"/><text x="1537" y="504" font-size="6.5">... [+]</text></g>
<rect class="R" x="1521" y="507" width="32" height="10"/>
<g class="h"><rect x="1521" y="519" width="32" height="13"/><text x="1537" y="529" font-size="6.5">... [+]</text></g>
<rect class="R" x="1521" y="532" width="32" height="5"/>
<!-- power -->
<g class="h"><rect x="1248" y="496" width="94" height="14"/><text x="1295" y="506">...عرضه برق، گاز، بخار [+]</text></g>
<rect class="R" x="1248" y="510" width="28" height="52"/><text x="1262" y="540" font-size="8">ونيرو</text>
<rect class="G" x="1276" y="510" width="33" height="32"/><text x="1292" y="529" font-size="7">بم...</text><rect class="G" x="1309" y="510" width="33" height="18"/>
<rect class="K" x="1276" y="542" width="16" height="20"/><text x="1284" y="555" font-size="6">م...</text><rect class="K" x="1292" y="542" width="17" height="12"/><rect class="D" x="1292" y="554" width="17" height="8"/>
<rect class="R" x="1309" y="528" width="16" height="20"/><rect class="G" x="1325" y="528" width="17" height="20"/><rect class="R" x="1309" y="548" width="16" height="14"/><rect class="R" x="1325" y="548" width="17" height="14"/>
<!-- telecom -->
<g class="h"><rect x="1344" y="508" width="69" height="14"/><text x="1378" y="518">مخابرات [+]</text></g>
<rect class="R" x="1344" y="522" width="43" height="40"/><text x="1365" y="545" font-size="9">اخابر</text>
<rect class="R" x="1387" y="522" width="26" height="40"/><text x="1400" y="545" font-size="7">هم...</text>
<g class="h"><rect x="1416" y="524" width="58" height="13"/><text x="1445" y="534" font-size="6.5">... استخراج [+]</text></g>
<rect class="R" x="1416" y="537" width="58" height="25"/><text x="1445" y="553" font-size="9">حفاري</text>
<g class="h"><rect x="1476" y="537" width="43" height="12"/><text x="1497" y="546" font-size="6.5">...استخ [+]</text></g>
<rect class="R" x="1476" y="549" width="22" height="13"/><rect class="R" x="1498" y="549" width="21" height="13"/>
<g class="h"><rect x="1521" y="537" width="32" height="25"/><text x="1530" y="552" font-size="6.5">[...</text></g>
</svg>
</body></html>
